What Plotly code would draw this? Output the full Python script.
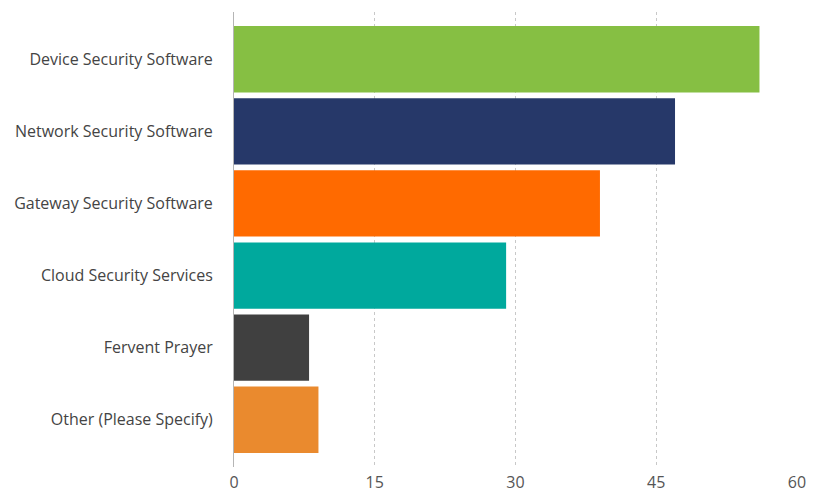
import plotly.graph_objects as go

categories = [
    "Device Security Software",
    "Network Security Software",
    "Gateway Security Software",
    "Cloud Security Services",
    "Fervent Prayer",
    "Other (Please Specify)",
]
values = [56, 47, 39, 29, 8, 9]
colors = ["#86bf43", "#263869", "#ff6a00", "#00a99d", "#404040", "#ea8a2e"]
x_ticks = [0, 15, 30, 45, 60]

fig = go.Figure(
    go.Bar(
        x=values,
        y=categories,
        orientation="h",
        marker=dict(color=colors, line=dict(width=0)),
        width=0.92,
        hoverinfo="x+y",
    )
)

fig.update_layout(
    width=819,
    height=495,
    margin=dict(l=234, r=22, t=12, b=28),
    paper_bgcolor="white",
    plot_bgcolor="white",
    showlegend=False,
    font=dict(family="Open Sans", size=16, color="#444"),
)

fig.update_xaxes(
    range=[0, 60],
    tickvals=x_ticks,
    ticktext=[str(t) for t in x_ticks],
    showgrid=True,
    gridcolor="#c8c8c8",
    griddash="dot",
    gridwidth=1,
    zeroline=False,
    showline=False,
    ticks="outside",
    ticklen=1,
    tickcolor="rgba(0,0,0,0)",
    tickfont=dict(size=16, color="#555"),
    automargin=False,
)

fig.update_yaxes(
    type="category",
    categoryorder="array",
    categoryarray=categories,
    range=[5.655, -0.655],
    showgrid=False,
    zeroline=False,
    showline=True,
    linecolor="#b5b5b5",
    linewidth=1,
    ticks="outside",
    ticklen=17,
    tickcolor="rgba(0,0,0,0)",
    tickfont=dict(size=16, color="#444"),
    automargin=False,
)

fig.write_html("out.html")
